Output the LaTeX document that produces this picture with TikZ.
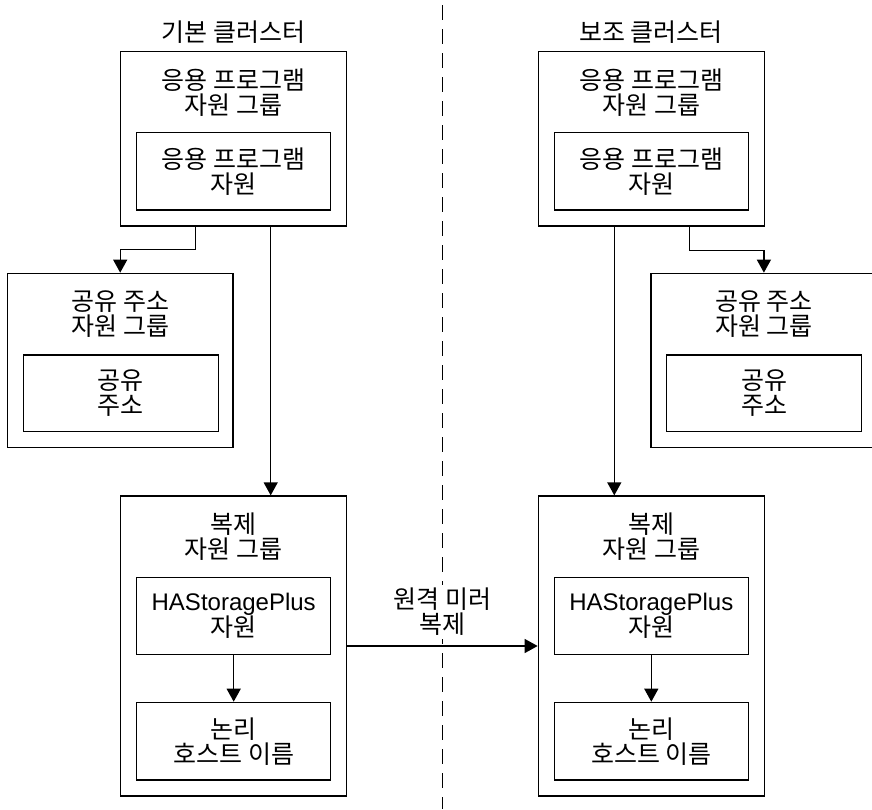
\documentclass[tikz,border=0pt]{standalone}
\usepackage{fontspec}
\setmainfont{Noto Sans CJK KR}
\newfontfamily\latinfont{Liberation Sans}
\usetikzlibrary{arrows.meta}

\tikzset{
    box/.style={draw, line width=1.3pt, inner sep=0pt},
    lbl/.style={align=center, font=\fontsize{25}{25}\selectfont},
    arr/.style={line width=1.3pt, -{Triangle[width=14pt,length=13pt]}},
}

\begin{document}
\begin{tikzpicture}[x=1pt,y=-1pt]
    \clip (0,0) rectangle (872,809);
    \useasboundingbox (0,0) rectangle (872,809);
    % cluster divider
    \coordinate (divtop) at (442.5,5);
    \coordinate (divbot) at (442.5,809);
    \draw[line width=1.3pt, dash pattern=on 15pt off 9pt] (divtop) -- (divbot);

    % primary cluster
    \node[lbl] (titleL) at (233.7,32) {기본 클러스터};
    \node[box, minimum width=226pt, minimum height=174.3pt] (agL) at (233.7,138.8) {};
    \node[lbl] (agLt) at (233.7,92.5) {응용 프로그램\\자원 그룹};
    \node[box, lbl, minimum width=194pt, minimum height=77.3pt] (arL) at (233.7,171.3) {응용 프로그램\\자원};

    \node[box, minimum width=225.7pt, minimum height=174.2pt] (sgL) at (120.2,360.4) {};
    \node[lbl] (sgLt) at (120.2,314.2) {공유 주소\\자원 그룹};
    \node[box, lbl, minimum width=195pt, minimum height=76.7pt] (saL) at (120.8,393.3) {공유\\주소};

    \node[box, minimum width=226pt, minimum height=300pt] (rgL) at (233.7,646) {};
    \node[lbl] (rgLt) at (233.7,536.5) {복제\\자원 그룹};
    \node[box, lbl, minimum width=194pt, minimum height=77pt] (hsL) at (233.7,615.8) {{\latinfont\fontsize{24}{25}\selectfont HAStoragePlus}\\자원};
    \node[box, lbl, minimum width=194pt, minimum height=77.7pt] (lhL) at (233.7,741.2) {논리\\호스트 이름};

    % secondary cluster
    \node[lbl] (titleR) at (651,32) {보조 클러스터};
    \node[box, minimum width=226pt, minimum height=174.3pt] (agR) at (651.3,138.8) {};
    \node[lbl] (agRt) at (651.3,92.5) {응용 프로그램\\자원 그룹};
    \node[box, lbl, minimum width=194pt, minimum height=77.3pt] (arR) at (651.3,171.3) {응용 프로그램\\자원};

    \node[box, minimum width=225.7pt, minimum height=174.2pt] (sgR) at (763.9,360.4) {};
    \node[lbl] (sgRt) at (763.9,314.2) {공유 주소\\자원 그룹};
    \node[box, lbl, minimum width=195pt, minimum height=76.7pt] (saR) at (764.2,393.3) {공유\\주소};

    \node[box, minimum width=226pt, minimum height=300pt] (rgR) at (651.3,646) {};
    \node[lbl] (rgRt) at (651.3,536.5) {복제\\자원 그룹};
    \node[box, lbl, minimum width=194pt, minimum height=77pt] (hsR) at (651.3,615.8) {{\latinfont\fontsize{24}{25}\selectfont HAStoragePlus}\\자원};
    \node[box, lbl, minimum width=194pt, minimum height=77.7pt] (lhR) at (651.3,741.2) {논리\\호스트 이름};

    % dependencies
    \draw[arr] ([xshift=-38pt]agL.south) -- ++(0,23) -| (sgL.north);
    \draw[arr] ([xshift=37pt]agL.south) -- ([xshift=37pt]rgL.north);
    \draw[arr] (hsL) -- (lhL);
    \draw[arr] ([xshift=38pt]agR.south) -- ++(0,24) -| (sgR.north);
    \draw[arr] ([xshift=-37pt]agR.south) -- ([xshift=-37pt]rgR.north);
    \draw[arr] (hsR) -- (lhR);

    % replication
    \node[lbl, fill=white] (mirror) at (442.5,611.7) {원격 미러\\복제};
    \draw[arr] (rgL.east) -- (rgR.west);
\end{tikzpicture}
\end{document}
